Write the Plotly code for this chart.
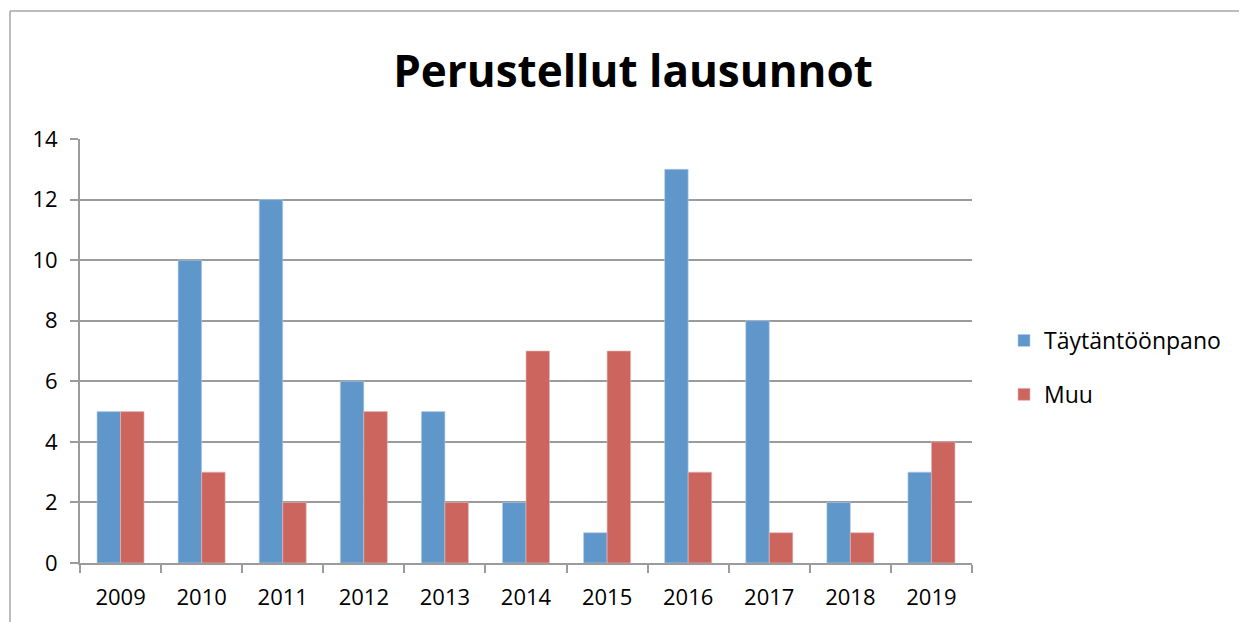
import plotly.graph_objects as go

years = ["2009", "2010", "2011", "2012", "2013", "2014", "2015", "2016", "2017", "2018", "2019"]
taytantoonpano = [5, 10, 12, 6, 5, 2, 1, 13, 8, 2, 3]
muu = [5, 3, 2, 5, 2, 7, 7, 3, 1, 1, 4]

W, H = 1247, 622
OFF = 8  # page body margin
L, R, T, B = 80 - OFF, 972 - OFF, 139 - OFF, 563 - OFF

FONT = "Open Sans, Lato, sans-serif"
AXIS_GRAY = "#9B9B9B"


def px_x(p):
    return (p - OFF - L) / (R - L)


def px_y(p):
    return (B - (p - OFF)) / (B - T)


fig = go.Figure()
fig.add_trace(go.Bar(x=years, y=taytantoonpano, name="Täytäntöönpano",
                     marker=dict(color="#6097CB", line=dict(color="#B9CDE5", width=0.6)),
                     legendgroup="a"))
fig.add_trace(go.Bar(x=years, y=muu, name="Muu",
                     marker=dict(color="#CD655F", line=dict(color="#E6B9B8", width=0.6)),
                     legendgroup="b"))

fig.update_layout(
    width=W, height=H,
    margin=dict(l=L, r=W - R, t=T, b=H - B, autoexpand=False),
    paper_bgcolor="white", plot_bgcolor="white",
    font=dict(family=FONT, size=22, color="black"),
    barmode="group", bargap=0.42, bargroupgap=0,
    title=dict(text="<b>Perustellut lausunnot</b>", x=px_x(633), xref="paper",
               xanchor="center", y=1 - (72 - OFF) / H, yanchor="middle",
               font=dict(size=44, family=FONT, color="black")),
    legend=dict(x=px_x(1004), y=px_y(319), xanchor="left", yanchor="top",
                font=dict(size=23, family=FONT), tracegroupgap=21,
                itemwidth=30, bgcolor="rgba(0,0,0,0)"),
    showlegend=True,
    shapes=[
        dict(type="line", xref="paper", yref="paper", x0=px_x(10), x1=px_x(W + 20),
             y0=px_y(11), y1=px_y(11), line=dict(color="#A6A6A6", width=1.5)),
        dict(type="line", xref="paper", yref="paper", x0=px_x(10), x1=px_x(10),
             y0=px_y(11), y1=px_y(H + 20), line=dict(color="#A6A6A6", width=1.5)),
    ],
)

fig.update_xaxes(type="category", showline=True, linecolor=AXIS_GRAY, linewidth=2,
                 ticks="outside", tickson="boundaries", ticklen=8, tickwidth=2,
                 tickcolor=AXIS_GRAY, showgrid=False, tickfont=dict(size=22, family=FONT),
                 range=[-0.5, 10.5], ticklabelstandoff=14)
fig.update_yaxes(range=[0, 14], dtick=2, showline=True, linecolor=AXIS_GRAY, linewidth=2,
                 ticks="outside", ticklen=8, tickwidth=2, tickcolor=AXIS_GRAY,
                 showgrid=True, gridcolor=AXIS_GRAY, gridwidth=2, zeroline=False,
                 tickfont=dict(size=22, family=FONT), ticklabelstandoff=8)

fig.write_html("out.html")
